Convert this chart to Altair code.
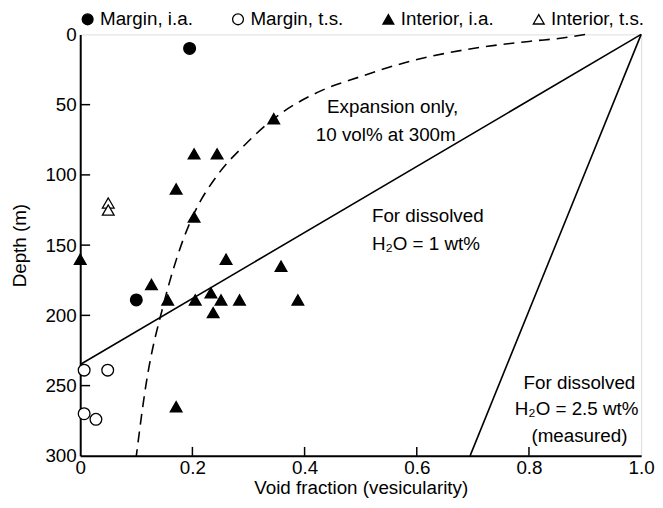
import altair as alt
import pandas as pd

# ---------------- data ----------------
series_names = ["Margin, i.a.", "Margin, t.s.", "Interior, i.a.", "Interior, t.s."]

margin_ia_void = [0.195, 0.10]
margin_ia_depth = [10, 189]
margin_ts_void = [0.007, 0.049, 0.007, 0.028]
margin_ts_depth = [239, 239, 270, 274]
interior_ia_void = [0.345, 0.203, 0.244, 0.171, 0.203, 0.0, 0.26, 0.358, 0.127,
                    0.156, 0.205, 0.233, 0.251, 0.284, 0.388, 0.237, 0.171]
interior_ia_depth = [60, 85, 85, 110, 130, 160, 160, 165, 178,
                     189, 189, 184, 189, 189, 189, 198, 265]
interior_ts_void = [0.05, 0.05]
interior_ts_depth = [120, 125]

expansion_void = [0.90, 0.87, 0.80, 0.70, 0.58, 0.50, 0.43, 0.345, 0.29, 0.245,
                  0.20, 0.18, 0.15, 0.117, 0.10]
expansion_depth = [0, 2, 5, 10, 20, 30, 40, 60, 80, 100, 130, 150, 190, 250, 300]
h2o_1_void = [0.0, 1.0]
h2o_1_depth = [235, 0]
h2o_25_void = [0.695, 1.0]
h2o_25_depth = [300, 0]

x_ticks = [0, 0.2, 0.4, 0.6, 0.8, 1.0]
y_ticks = [0, 50, 100, 150, 200, 250, 300]

left_text = ["Expansion only,", "10 vol% at 300m", "For dissolved", "H₂O = 1 wt%"]
left_void = [0.44, 0.42, 0.52, 0.52]
left_depth = [52, 72, 129, 149]
center_text = ["For dissolved", "H₂O = 2.5 wt%", "(measured)"]
center_void = [0.89, 0.885, 0.89]
center_depth = [248, 267, 286]

# ---------------- tables ----------------
rows = []
for name, xs, ys in zip(series_names,
                        [margin_ia_void, margin_ts_void, interior_ia_void, interior_ts_void],
                        [margin_ia_depth, margin_ts_depth, interior_ia_depth, interior_ts_depth]):
    for a, b in zip(xs, ys):
        rows.append({"type": name, "void": a, "depth": b})
points = pd.DataFrame(rows)

def line_df(xs, ys):
    return pd.DataFrame({"void": xs, "depth": ys, "idx": list(range(len(xs)))})

W, H = 567, 426
FONT = "Liberation Sans"
FS = 19

xscale = alt.Scale(domain=[0, 1], nice=False, zero=False)
yscale = alt.Scale(domain=[0, 300], reverse=True, nice=False, zero=False)

xaxis = alt.Axis(values=x_ticks, title="Void fraction (vesicularity)", grid=False,
                 ticks=False, tickSize=0, labelPadding=3, domainWidth=2, domainColor="black",
                 labelExpr="datum.value == 0 ? '0' : format(datum.value, '.1f')",
                 labelFontSize=FS, titleFontSize=FS, titleFontWeight="normal",
                 labelColor="black", titleColor="black", titlePadding=1, labelFlush=False)
yaxis = alt.Axis(values=y_ticks, title="Depth (m)", grid=False, ticks=False, tickSize=0,
                 labelPadding=4, domainWidth=2, domainColor="black",
                 labelFontSize=FS, titleFontSize=FS, titleFontWeight="normal",
                 labelColor="black", titleColor="black", titlePadding=16, labelFlush=False)

X = alt.X("void:Q", scale=xscale, axis=xaxis)
Y = alt.Y("depth:Q", scale=yscale, axis=yaxis)

legend = alt.Legend(title=None, orient="none", legendX=-2, legendY=-25,
                    direction="horizontal", labelFontSize=FS, labelFont=FONT,
                    labelColor="black", symbolSize=120, symbolStrokeWidth=1.3,
                    columnPadding=36, labelOffset=3)

pts = alt.Chart(points).mark_point(filled=True, size=140, strokeWidth=1.3, opacity=1).encode(
    x=X, y=Y,
    shape=alt.Shape("type:N", sort=series_names,
                    scale=alt.Scale(domain=series_names,
                                    range=["circle", "circle", "triangle-up", "triangle-up"]),
                    legend=legend),
    fill=alt.Fill("type:N", sort=series_names,
                  scale=alt.Scale(domain=series_names,
                                  range=["black", "white", "black", "white"]),
                  legend=legend),
    stroke=alt.Stroke("type:N", sort=series_names,
                      scale=alt.Scale(domain=series_names,
                                      range=["black", "black", "black", "black"]),
                      legend=legend),
)

exp_line = alt.Chart(line_df(expansion_void, expansion_depth)).mark_line(
    color="black", strokeWidth=1.6, strokeDash=[11, 7], interpolate="monotone").encode(
    x=X, y=Y, order="idx:Q")
l1 = alt.Chart(line_df(h2o_1_void, h2o_1_depth)).mark_line(
    color="black", strokeWidth=1.6).encode(x=X, y=Y, order="idx:Q")
l25 = alt.Chart(line_df(h2o_25_void, h2o_25_depth)).mark_line(
    color="black", strokeWidth=1.6).encode(x=X, y=Y, order="idx:Q")

ytick_rules = alt.Chart(pd.DataFrame({"depth": y_ticks[1:-1]})).mark_rule(
    color="black", strokeWidth=1.5).encode(y=Y, x=alt.value(0), x2=alt.value(10))
xtick_rules = alt.Chart(pd.DataFrame({"void": x_ticks[1:-1]})).mark_rule(
    color="black", strokeWidth=1.5).encode(x=X, y=alt.value(H), y2=alt.value(H - 9))

txt_left = alt.Chart(pd.DataFrame({"void": left_void, "depth": left_depth, "t": left_text})).mark_text(
    align="left", baseline="middle", fontSize=19, font=FONT, color="black").encode(x=X, y=Y, text="t:N")
txt_center = alt.Chart(pd.DataFrame({"void": center_void, "depth": center_depth, "t": center_text})).mark_text(
    align="center", baseline="middle", fontSize=19, font=FONT, color="black").encode(x=X, y=Y, text="t:N")

chart = alt.layer(exp_line, l1, l25, ytick_rules, xtick_rules, pts, txt_left, txt_center).properties(
    width=W, height=H,
    autosize=alt.AutoSizeParams(type="none"),
    padding={"left": 73, "top": 24, "right": 14, "bottom": 48},
).configure_view(stroke="black", strokeWidth=1.2).configure_legend(
    labelFontSize=FS, labelFont=FONT
).configure(font=FONT, background="white")

chart.save("out.html", embed_options={"renderer": "svg", "actions": False})
